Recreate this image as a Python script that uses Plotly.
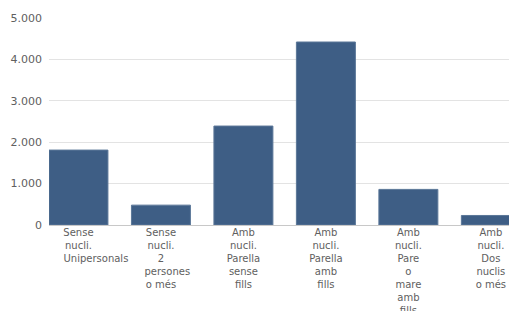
import plotly.graph_objects as go

NB = "\u00a0"
categories = [
    "Sense<br>nucli.<br>" + NB * 11 + "Unipersonals",
    "Sense<br>nucli.<br>2<br>" + NB * 4 + "persones<br>o més",
    "Amb<br>nucli.<br>Parella<br>sense<br>fills",
    "Amb<br>nucli.<br>Parella<br>amb<br>fills",
    "Amb<br>nucli.<br>Pare<br>o<br>mare<br>amb<br>fills",
    "Amb<br>nucli.<br>Dos<br>nuclis<br>o més",
]
values = [1810, 480, 2390, 4420, 860, 230]
y_ticks = [0, 1000, 2000, 3000, 4000, 5000]

fig = go.Figure(
    go.Bar(
        x=list(range(len(categories))),
        y=values,
        width=0.715,
        marker=dict(color="#3e5e85", line=dict(color="#5b7798", width=1)),
        hoverinfo="y",
    )
)

fig.update_layout(
    width=509,
    height=311,
    margin=dict(l=49, r=0, t=18, b=86),
    paper_bgcolor="white",
    plot_bgcolor="white",
    separators=",.",
    showlegend=False,
    font=dict(family="Verdana, DejaVu Sans, sans-serif", size=10, color="#606060"),
    xaxis=dict(
        tickmode="array",
        tickvals=list(range(len(categories))),
        ticktext=categories,
        range=[-0.357, 5.22],
        showgrid=False,
        zeroline=False,
        showline=False,
        ticks="",
        tickangle=0,
        automargin=False,
        tickfont=dict(size=10, color="#606060"),
    ),
    yaxis=dict(
        range=[0, 5000],
        tickvals=y_ticks,
        tickformat=",d",
        showgrid=True,
        gridcolor="#e3e3e3",
        gridwidth=1,
        zeroline=True,
        zerolinecolor="#c8c8c8",
        zerolinewidth=1,
        showline=False,
        ticks="",
        automargin=False,
        ticklabelstandoff=6,
        tickfont=dict(size=11, color="#606060"),
    ),
)

fig.write_html(
    "out.html",
    config={"displayModeBar": False},
    post_script="document.body.style.margin='0';document.body.style.overflow='hidden';",
)
